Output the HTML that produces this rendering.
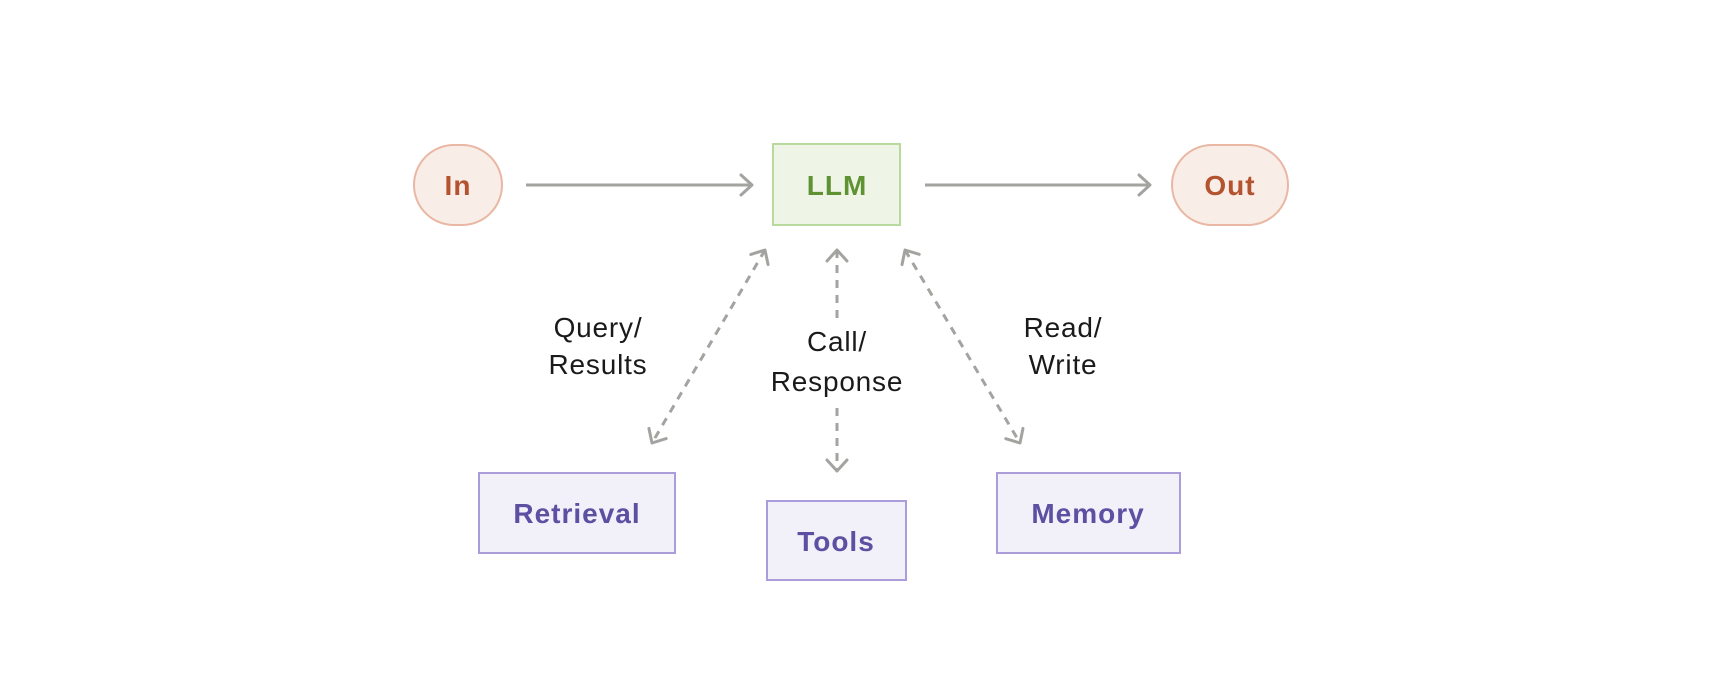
<!DOCTYPE html>
<html><head><meta charset="utf-8"><style>
html,body{margin:0;padding:0;background:#fff}
svg{display:block}
text{font-family:"Liberation Sans",sans-serif}
</style></head><body>
<svg width="1726" height="698" viewBox="0 0 1726 698" xmlns="http://www.w3.org/2000/svg">
<defs>
<marker id="a" viewBox="0 0 24 24" refX="17" refY="12" markerWidth="24" markerHeight="24" markerUnits="userSpaceOnUse" orient="auto-start-reverse">
<path d="M6 2 L17 12 L6 22" fill="none" stroke="#a3a3a0" stroke-width="3" stroke-linecap="round" stroke-linejoin="round"/>
</marker>
</defs>
<rect x="414" y="145" width="88" height="80" rx="40" fill="#f9ede8" stroke="#e9b7a3" stroke-width="2"/>
<text x="458" y="195" text-anchor="middle" font-size="28" font-weight="bold" fill="#b4532f" letter-spacing="1">In</text>
<rect x="773" y="144" width="127" height="81" fill="#eef5e6" stroke="#b8da9e" stroke-width="2"/>
<text x="837" y="195" text-anchor="middle" font-size="28" font-weight="bold" fill="#5e9232" letter-spacing="1">LLM</text>
<rect x="1172" y="145" width="116" height="80" rx="40" fill="#f9ede8" stroke="#e9b7a3" stroke-width="2"/>
<text x="1230" y="195" text-anchor="middle" font-size="28" font-weight="bold" fill="#b4532f" letter-spacing="1">Out</text>
<line x1="526" y1="185" x2="752" y2="185" stroke="#a3a3a0" stroke-width="3" marker-end="url(#a)"/>
<line x1="925" y1="185" x2="1150" y2="185" stroke="#a3a3a0" stroke-width="3" marker-end="url(#a)"/>
<g stroke="#a3a3a0" stroke-width="3" stroke-dasharray="8 7" fill="none">
<line x1="765" y1="250" x2="652" y2="443" marker-start="url(#a)" marker-end="url(#a)"/>
<line x1="905" y1="250" x2="1020" y2="443" marker-start="url(#a)" marker-end="url(#a)"/>
<line x1="837" y1="250" x2="837" y2="318" marker-start="url(#a)"/>
<line x1="837" y1="408" x2="837" y2="471" marker-end="url(#a)"/>
</g>
<g font-size="28" fill="#1a1a1a" text-anchor="middle" letter-spacing="0.8">
<text x="598" y="337">Query/</text><text x="598" y="374">Results</text>
<text x="837" y="351">Call/</text><text x="837" y="391">Response</text>
<text x="1063" y="337">Read/</text><text x="1063" y="374">Write</text>
</g>
<rect x="479" y="473" width="196" height="80" fill="#f2f0f8" stroke="#ab9dda" stroke-width="2"/>
<text x="577" y="523" text-anchor="middle" font-size="28" font-weight="bold" fill="#5d4fa2" letter-spacing="1">Retrieval</text>
<rect x="767" y="501" width="139" height="79" fill="#f2f0f8" stroke="#ab9dda" stroke-width="2"/>
<text x="836" y="551" text-anchor="middle" font-size="28" font-weight="bold" fill="#5d4fa2" letter-spacing="1">Tools</text>
<rect x="997" y="473" width="183" height="80" fill="#f2f0f8" stroke="#ab9dda" stroke-width="2"/>
<text x="1088" y="523" text-anchor="middle" font-size="28" font-weight="bold" fill="#5d4fa2" letter-spacing="1">Memory</text>
</svg>
</body></html>
